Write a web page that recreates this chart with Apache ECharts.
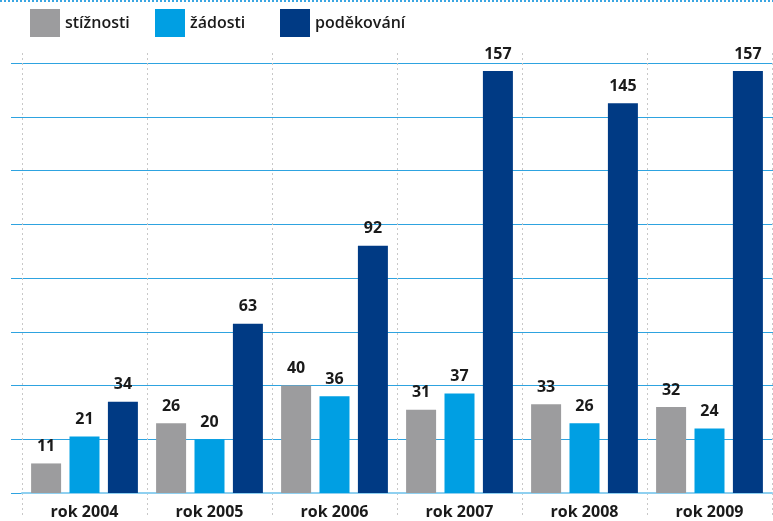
<!DOCTYPE html>
<html>
<head>
<meta charset="utf-8">
<script src="https://cdn.jsdelivr.net/npm/echarts@6/dist/echarts.min.js"></script>
<style>
html, body { margin: 0; padding: 0; background: #fff; }
#chart { width: 773px; height: 521px; }
</style>
</head>
<body>
<div id="chart"></div>
<script>
// data
var years = ['rok 2004', 'rok 2005', 'rok 2006', 'rok 2007', 'rok 2008', 'rok 2009'];
var stiznosti = [11, 26, 40, 31, 33, 32];
var zadosti = [21, 20, 36, 37, 26, 24];
var podekovani = [34, 63, 92, 157, 145, 157];
var seriesNames = ['stížnosti', 'žádosti', 'poděkování'];
var colors = ['#9c9c9e', '#009fe3', '#003a84'];

var font = '"Open Sans", sans-serif';

function barSeries(i, data) {
	return {
		name: seriesNames[i],
		type: 'bar',
		xAxisIndex: 0,
		yAxisIndex: 0,
		data: data,
		barWidth: 30,
		barGap: '28%',
		itemStyle: { color: colors[i] },
		label: {
			show: true,
			position: 'top',
			distance: 9,
			color: '#1a1a1a',
			fontFamily: font,
			fontWeight: 'bold',
			fontSize: 16
		},
		z: 3
	};
}

// one legend per item so they sit at fixed x positions
var legends = [];
for (var i = 0; i < seriesNames.length; i++) {
	legends.push({
		data: [seriesNames[i]],
		left: 30 + i * 125,
		top: 9,
		padding: 0,
		icon: 'rect',
		itemWidth: 30,
		itemHeight: 28,
		itemGap: 5,
		textStyle: { color: '#1a1a1a', fontFamily: font, fontWeight: 600, fontSize: 16 }
	});
}

var option = {
	animation: false,
	legend: legends,
	grid: [
		// bars
		{ left: 22, right: 1, top: 63, bottom: 28 },
		// horizontal lines, start a bit further left
		{ left: 11, right: 0, top: 63, bottom: 28 },
		// dotted vertical separators, taller than the plot
		{ left: 22, right: 1, top: 53, bottom: 6 }
	],
	xAxis: [
		{
			type: 'category', gridIndex: 0, data: years,
			axisLine: { show: true, lineStyle: { color: '#8fd0f0', width: 2 } },
			axisTick: { show: false },
			axisLabel: { color: '#1a1a1a', fontFamily: font, fontWeight: 'bold', fontSize: 16, margin: 11 },
			splitLine: { show: false }
		},
		{ type: 'value', gridIndex: 1, show: false, min: 0, max: 1 },
		{
			type: 'category', gridIndex: 2, data: years,
			axisLine: { show: false }, axisTick: { show: false }, axisLabel: { show: false },
			splitLine: { show: true, lineStyle: { color: '#c8c8c8', type: [2, 3], width: 1 } }
		}
	],
	yAxis: [
		{ type: 'value', gridIndex: 0, min: 0, max: 160, interval: 20, show: false, splitLine: { show: false } },
		{
			type: 'value', gridIndex: 1, min: 0, max: 160, interval: 20,
			axisLine: { show: false }, axisTick: { show: false }, axisLabel: { show: false },
			splitLine: { show: true, lineStyle: { color: '#2ea3e0', width: 1 } }
		},
		{ type: 'value', gridIndex: 2, show: false, min: 0, max: 1, splitLine: { show: false } }
	],
	graphic: [
		{
			type: 'line',
			shape: { x1: 0, y1: 1, x2: 773, y2: 1 },
			style: { stroke: '#3aa6e2', lineWidth: 2, lineDash: [2, 2] }
		}
	],
	series: [
		barSeries(0, stiznosti),
		barSeries(1, zadosti),
		barSeries(2, podekovani)
	]
};

var chart = echarts.init(document.getElementById('chart'));
chart.setOption(option);
</script>
</body>
</html>
